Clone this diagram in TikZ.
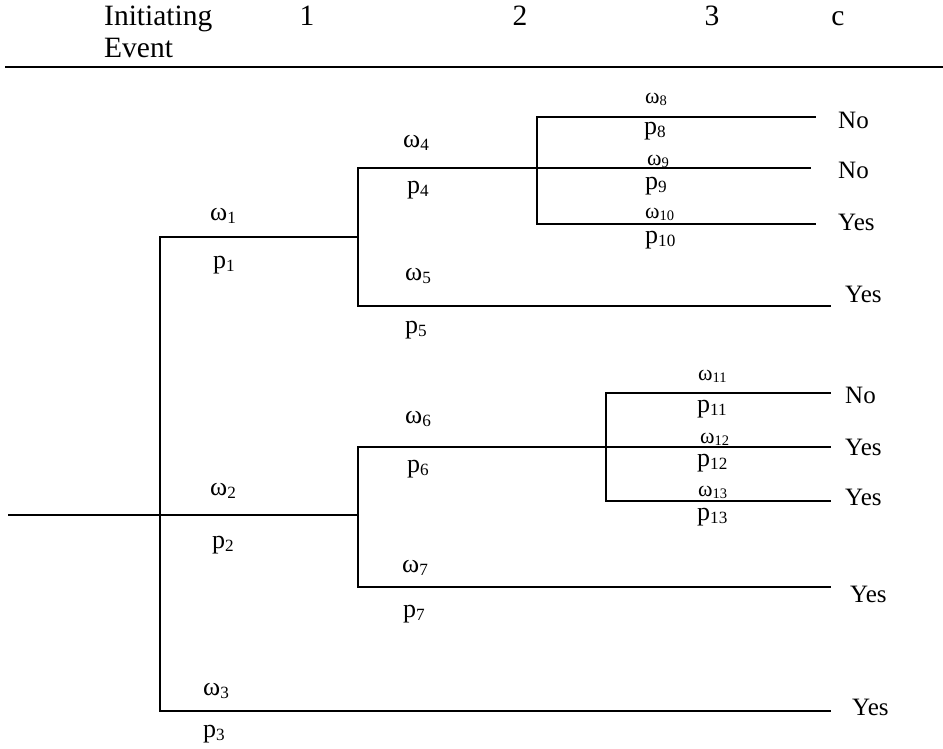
\documentclass[tikz,border=0pt]{standalone}
\usepackage{fontspec}
\usepackage{graphicx}
\setmainfont{Liberation Serif}
\newcommand\sbx[1]{\raisebox{-0.12em}{\scalebox{0.66}{#1}}}
\tikzset{
  hdr/.style={font=\fontsize{29.5}{31}\selectfont, inner sep=0pt},
  lbl/.style={font=\fontsize{26}{28}\selectfont, anchor=base west, inner sep=0pt},
  slbl/.style={font=\fontsize{22}{24}\selectfont, anchor=base west, inner sep=0pt},
  outc/.style={font=\fontsize{25}{27}\selectfont, anchor=base west, inner sep=0pt},
  br/.style={line width=1.8pt, line cap=rect},
}
\begin{document}
\begin{tikzpicture}[x=1pt,y=-1pt]
\useasboundingbox (0,0) rectangle (943,748);
% header
\node[hdr, anchor=base west] (h0) at (104,25) {Initiating};
\node[hdr, anchor=base west] (h0b) at (104,57) {Event};
\node[hdr, anchor=base] (h1) at (307,25) {1};
\node[hdr, anchor=base] (h2) at (520,25) {2};
\node[hdr, anchor=base] (h3) at (712,25) {3};
\node[hdr, anchor=base] (hc) at (838,25) {c};
\coordinate (rl) at (5,67);
\coordinate (rr) at (943,67);
\draw[line width=1.8pt] (rl) -- (rr);
% tree points
\coordinate (r0) at (9,515);
\coordinate (a1) at (160,237);
\coordinate (a3) at (160,711);
\coordinate (B1) at (358,237);
\coordinate (B2) at (358,515);
\coordinate (b4) at (358,168);
\coordinate (b5) at (358,306);
\coordinate (e9) at (810,168);
\coordinate (e5) at (830,306);
\coordinate (c8) at (537,117);
\coordinate (c10) at (537,224);
\coordinate (e8) at (815,117);
\coordinate (e10) at (815,224);
\coordinate (b6) at (358,447);
\coordinate (b7) at (358,587);
\coordinate (e6) at (830,447);
\coordinate (e7) at (830,587);
\coordinate (d11) at (606,393);
\coordinate (d13) at (606,501);
\coordinate (e11) at (830,393);
\coordinate (e13) at (830,501);
\coordinate (e3) at (830,711);
% branches
\draw[br] (r0) -- (B2);
\draw[br] (a1) -- (a3);
\draw[br] (a1) -- (B1);
\draw[br] (a3) -- (e3);
\draw[br] (b4) -- (b5);
\draw[br] (b4) -- (e9);
\draw[br] (b5) -- (e5);
\draw[br] (c8) -- (c10);
\draw[br] (c8) -- (e8);
\draw[br] (c10) -- (e10);
\draw[br] (b6) -- (b7);
\draw[br] (b6) -- (e6);
\draw[br] (b7) -- (e7);
\draw[br] (d11) -- (d13);
\draw[br] (d11) -- (e11);
\draw[br] (d13) -- (e13);
% labels
\node[lbl] (w1) at (210,220) {ω\sbx{1}};
\node[lbl] (p1) at (213,268) {p\sbx{1}};
\node[lbl] (w2) at (210,495) {ω\sbx{2}};
\node[lbl] (p2) at (212,548) {p\sbx{2}};
\node[lbl] (w3) at (203,695) {ω\sbx{3}};
\node[lbl] (p3) at (203,737) {p\sbx{3}};
\node[lbl] (w4) at (403,147) {ω\sbx{4}};
\node[lbl] (p4) at (407,193) {p\sbx{4}};
\node[lbl] (w5) at (405,280) {ω\sbx{5}};
\node[lbl] (p5) at (405,333) {p\sbx{5}};
\node[lbl] (w6) at (405,423) {ω\sbx{6}};
\node[lbl] (p6) at (407,472) {p\sbx{6}};
\node[lbl] (w7) at (402,572) {ω\sbx{7}};
\node[lbl] (p7) at (403,617) {p\sbx{7}};
\node[slbl] (w8) at (645,103) {ω\sbx{8}};
\node[lbl] (p8) at (644,134) {p\sbx{8}};
\node[slbl] (w9) at (647,165) {ω\sbx{9}};
\node[lbl] (p9) at (645,189) {p\sbx{9}};
\node[slbl] (w10) at (645,218) {ω\sbx{10}};
\node[lbl] (p10) at (645,243) {p\sbx{10}};
\node[slbl] (w11) at (698,380) {ω\sbx{11}};
\node[lbl] (p11) at (697,412) {p\sbx{11}};
\node[slbl] (w12) at (700,443) {ω\sbx{12}};
\node[lbl] (p12) at (697,466) {p\sbx{12}};
\node[slbl] (w13) at (698,496) {ω\sbx{13}};
\node[lbl] (p13) at (697,520) {p\sbx{13}};
% outcomes
\node[outc] (o8) at (838,128) {No};
\node[outc] (o9) at (838,178) {No};
\node[outc] (o10) at (838,230) {Yes};
\node[outc] (o5) at (845,302) {Yes};
\node[outc] (o11) at (845,403) {No};
\node[outc] (o12) at (845,455) {Yes};
\node[outc] (o13) at (845,505) {Yes};
\node[outc] (o7) at (850,602) {Yes};
\node[outc] (o3) at (852,715) {Yes};
\end{tikzpicture}
\end{document}
